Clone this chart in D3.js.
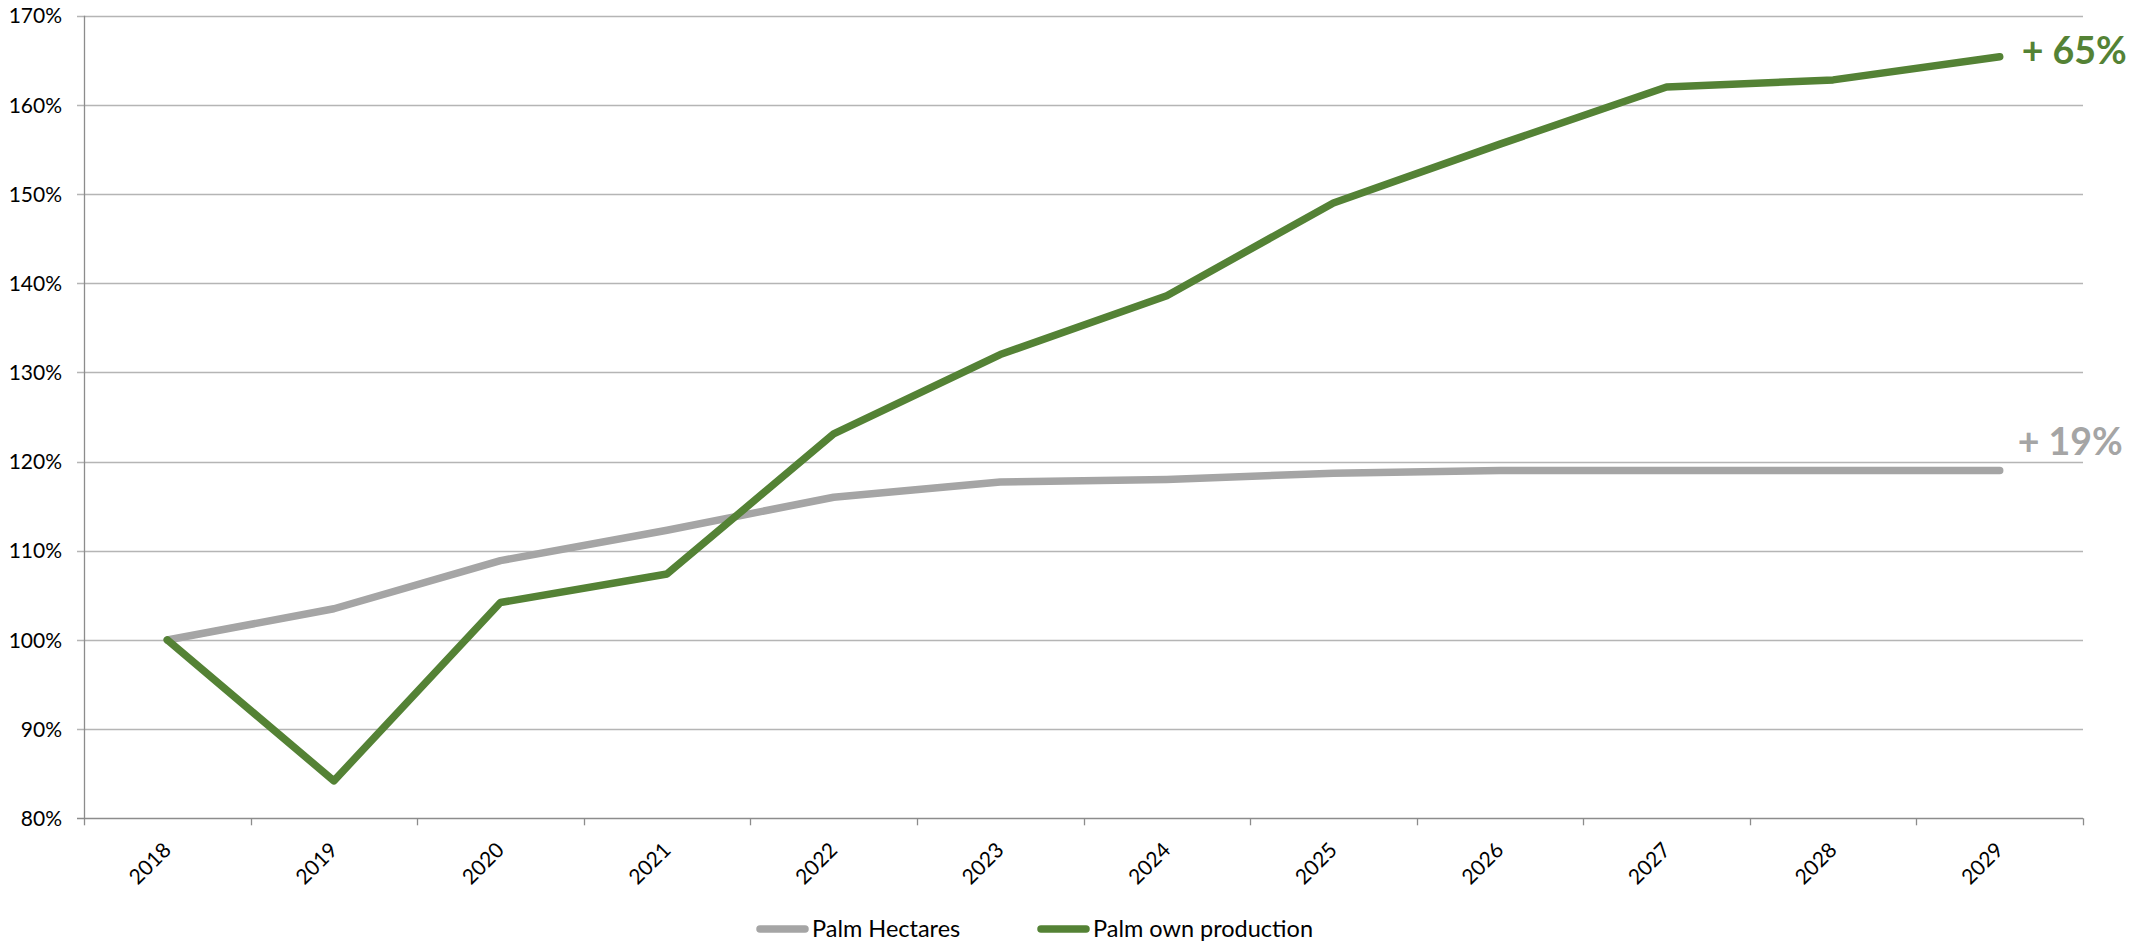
<!DOCTYPE html>
<html>
<head>
<meta charset="utf-8">
<script src="https://cdn.jsdelivr.net/npm/d3@7/dist/d3.min.js"></script>
<style>
  html, body { margin: 0; padding: 0; background: #ffffff; }
  svg { display: block; font-family: Lato, "Noto Sans", sans-serif; }
</style>
</head>
<body>
<svg id="chart" width="2150" height="945"></svg>
<script>
// Index values, 2018 = 100%
const years = ["2018", "2019", "2020", "2021", "2022", "2023", "2024", "2025", "2026", "2027", "2028", "2029"];
const palmHectares = [100, 103.5, 108.9, 112.3, 116.0, 117.7, 118.0, 118.7, 119.0, 119.0, 119.0, 119.0];
const palmOwnProduction = [100, 84.2, 104.2, 107.4, 123.1, 132.0, 138.6, 149.0, 155.6, 162.0, 162.8, 165.4];
const yTicks = [80, 90, 100, 110, 120, 130, 140, 150, 160, 170];
const seriesNames = ["Palm Hectares", "Palm own production"];

const GRAY = "#a5a5a5";
const GREEN = "#548235";

const svg = d3.select("#chart");

const plot = { left: 84, right: 2083, top: 15.7, bottom: 818.3 };

const x = d3.scaleBand().domain(years).range([plot.left, plot.right]).paddingInner(0).paddingOuter(0);
const xc = d => x(d) + x.bandwidth() / 2;
const y = d3.scaleLinear().domain([80, 170]).range([plot.bottom, plot.top]);

// Horizontal gridlines with short ticks to the left of the axis
svg.append("g")
  .selectAll("line")
  .data(yTicks)
  .join("line")
  .attr("x1", plot.left - 7)
  .attr("x2", plot.right)
  .attr("y1", d => Math.round(y(d)) + 0.5)
  .attr("y2", d => Math.round(y(d)) + 0.5)
  .attr("stroke", d => d === 80 ? "#8c8c8c" : "#b5b5b5")
  .attr("stroke-width", 1.3);

// Y axis labels
const yAxis = d3.axisLeft(y).tickValues(yTicks).tickSize(0).tickPadding(0).tickFormat(d => d + "%");
svg.append("g")
  .attr("transform", `translate(${plot.left - 22},0)`)
  .call(yAxis)
  .call(g => g.select(".domain").remove())
  .selectAll("text")
  .attr("font-family", "Lato, 'Noto Sans', sans-serif")
  .attr("font-size", 21)
  .attr("fill", "#000")
  .attr("dy", "0.34em");

// Vertical axis line
svg.append("line")
  .attr("x1", plot.left + 0.5).attr("x2", plot.left + 0.5)
  .attr("y1", plot.top).attr("y2", plot.bottom)
  .attr("stroke", "#8c8c8c").attr("stroke-width", 1.3);

// Category boundary ticks on the x axis
const boundaries = years.map(d => x(d)).concat([plot.right]);
svg.append("g")
  .selectAll("line")
  .data(boundaries)
  .join("line")
  .attr("x1", d => Math.round(d) + 0.5)
  .attr("x2", d => Math.round(d) + 0.5)
  .attr("y1", plot.bottom)
  .attr("y2", plot.bottom + 7)
  .attr("stroke", "#8c8c8c")
  .attr("stroke-width", 1.3);

// Rotated year labels
svg.append("g")
  .selectAll("text")
  .data(years)
  .join("text")
  .attr("transform", d => `translate(${xc(d) + 5},${plot.bottom + 33}) rotate(-45)`)
  .attr("text-anchor", "end")
  .attr("font-size", 21)
  .attr("fill", "#000")
  .text(d => d);

// Series lines
const line = d3.line().x((d, i) => xc(years[i])).y(d => y(d));
const series = [
  { name: seriesNames[0], values: palmHectares, color: GRAY },
  { name: seriesNames[1], values: palmOwnProduction, color: GREEN }
];

svg.append("g")
  .selectAll("path")
  .data(series)
  .join("path")
  .attr("d", s => line(s.values))
  .attr("fill", "none")
  .attr("stroke", s => s.color)
  .attr("stroke-width", 7.5)
  .attr("stroke-linejoin", "round")
  .attr("stroke-linecap", "round");

// Change labels at the end of each line
const lastYear = years[years.length - 1];
const endLabels = [
  { values: palmOwnProduction, color: GREEN, dx: 22, dy: 7.5 },
  { values: palmHectares, color: GRAY, dx: 18, dy: -15.5 }
];
svg.append("g")
  .selectAll("text")
  .data(endLabels)
  .join("text")
  .attr("x", d => xc(lastYear) + d.dx)
  .attr("y", d => y(d.values[d.values.length - 1]) + d.dy)
  .attr("font-size", 37.5)
  .attr("font-weight", "bold")
  .attr("fill", d => d.color)
  .text(d => "+ " + Math.round(d.values[d.values.length - 1] - 100) + "%");

// Legend
const legendItems = [
  { name: seriesNames[0], color: GRAY, x: 760 },
  { name: seriesNames[1], color: GREEN, x: 1041 }
];
const legend = svg.append("g").selectAll("g").data(legendItems).join("g")
  .attr("transform", d => `translate(${d.x},929)`);
legend.append("line")
  .attr("x1", 0).attr("x2", 45)
  .attr("y1", 0).attr("y2", 0)
  .attr("stroke", d => d.color)
  .attr("stroke-width", 7.5)
  .attr("stroke-linecap", "round");
legend.append("text")
  .attr("x", 52)
  .attr("y", 7.5)
  .attr("font-size", 23.5)
  .attr("fill", "#000")
  .text(d => d.name);
</script>
</body>
</html>
